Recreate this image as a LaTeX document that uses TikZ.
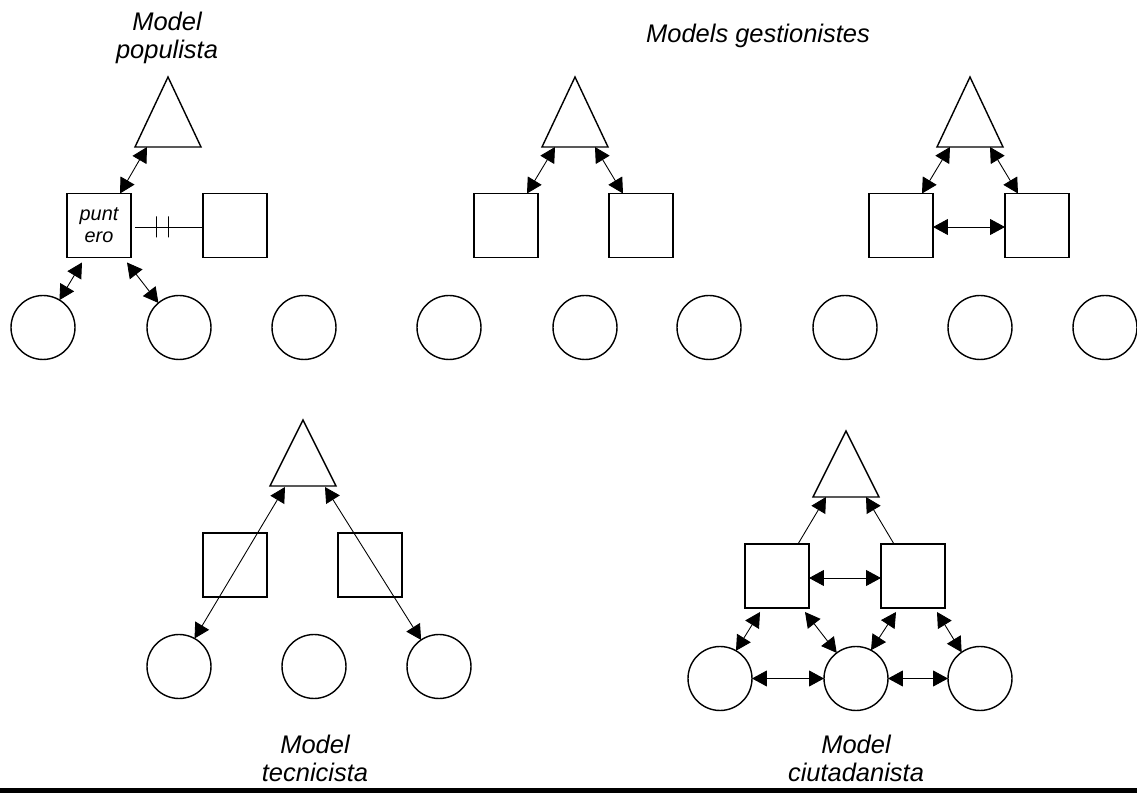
\documentclass[tikz,border=0pt]{standalone}
\usepackage{fontspec}
\setmainfont{Liberation Sans}
\usetikzlibrary{arrows.meta,shapes.geometric,calc}
\tikzset{font=\itshape}
\tikzset{every node/.append style={inner sep=0pt, outer sep=0pt}}
\tikzset{
  tri/.style={draw, line width=0.8pt, isosceles triangle, isosceles triangle stretches,
    shape border rotate=90, minimum width=1.32cm, minimum height=1.32cm, anchor=south},
  tall/.style={minimum height=1.4cm},
  sq/.style={draw, line width=0.8pt, minimum size=1.28cm},
  crc/.style={draw, line width=0.8pt, circle, minimum size=1.28cm},
  link/.style={line width=0.5pt,
    {Triangle[length=0.3cm,width=0.32cm]}-{Triangle[length=0.3cm,width=0.32cm]}},
  uplink/.style={line width=0.5pt, -{Triangle[length=0.3cm,width=0.32cm]}},
  lbl/.style={font=\fontsize{14.5}{15.9}\selectfont\itshape, align=center},
  dbltick/.style={draw, line width=0.5pt, minimum width=0pt, minimum height=0.42cm}
}

\begin{document}
\begin{tikzpicture}[x=0.02cm, y=-0.02cm]
  \useasboundingbox (0,0) rectangle (1137,793);

  % labels
  \node[lbl, anchor=north] (lpop) at (167,12) {Model\\populista};
  \node[lbl, anchor=base] (lges) at (758,43) {Models gestionistes};
  \node[lbl, anchor=north] (ltec) at (315,735) {Model\\tecnicista};
  \node[lbl, anchor=north] (lciu) at (856,735) {Model\\ciutadanista};

  % model populista
  \node[tri, tall] (t1) at (168,147) {};
  \node[sq, font=\fontsize{11.3}{12.5}\selectfont\itshape, align=center] (p1) at (99,225.5) {punt\\ero};
  \node[sq] (p2) at (235,225.5) {};
  \foreach \n/\x in {1/43, 2/179, 3/304}
    \node[crc] (c1\n) at (\x,327.5) {};
  \draw[link] ($(t1.south)+(-21,0)$) -- ($(p1.north)+(21,0)$);
  \draw[link] ($(p1.south)+(-17,5)$) -- (c11.59);
  \draw[link] ($(p1.south)+(28,5)$) -- (c12.130);
  \draw[line width=0.5pt] ($(p1.east)+(4,1.5)$) -- ($(p2.west)+(0,1.5)$)
    node[dbltick, pos=0.32] {} node[dbltick, pos=0.485] {};

  % models gestionistes
  \node[tri, tall] (t2) at (575,147) {};
  \node[sq] (b21) at (506,225.5) {};
  \node[sq] (b22) at (641,225.5) {};
  \foreach \n/\x in {1/449, 2/585, 3/709}
    \node[crc] (c2\n) at (\x,327.5) {};
  \draw[link] ($(t2.south)+(-20,0)$) -- ($(b21.north)+(21,0)$);
  \draw[link] ($(t2.south)+(20,0)$) -- ($(b22.north)+(-18,0)$);

  \node[tri, tall] (t3) at (970,147) {};
  \node[sq] (b31) at (901,225.5) {};
  \node[sq] (b32) at (1037,225.5) {};
  \foreach \n/\x in {1/845, 2/980, 3/1105}
    \node[crc] (c3\n) at (\x,327.5) {};
  \draw[link] ($(t3.south)+(-20,0)$) -- ($(b31.north)+(21,0)$);
  \draw[link] ($(t3.south)+(20,0)$) -- ($(b32.north)+(-19,0)$);
  \draw[link] ($(b31.east)+(0,1.5)$) -- ($(b32.west)+(0,1.5)$);

  % model tecnicista
  \node[tri] (t4) at (303,486) {};
  \node[sq] (b41) at (235,565) {};
  \node[sq] (b42) at (370,565) {};
  \foreach \n/\x in {1/179, 2/314, 3/439}
    \node[crc] (c4\n) at (\x,666.5) {};
  \draw[link] ($(t4.south)+(-18,1)$) -- (c41.61);
  \draw[link] ($(t4.south)+(22,1)$) -- (c43.124);

  % model ciutadanista
  \node[tri] (t5) at (846,497) {};
  \node[sq] (b51) at (777,576) {};
  \node[sq] (b52) at (913,576) {};
  \foreach \n/\x in {1/720, 2/856, 3/980}
    \node[crc] (c5\n) at (\x,678.5) {};
  \draw[uplink] ($(b51.north)+(21,0)$) -- ($(t5.south)+(-20,0)$);
  \draw[uplink] ($(b52.north)+(-19,0)$) -- ($(t5.south)+(20,0)$);
  \draw[link] ($(b51.east)+(0,2)$) -- ($(b52.west)+(0,2)$);
  \draw[link] ($(b51.south)+(-17,4)$) -- (c51.60);
  \draw[link] ($(b51.south)+(28,4)$) -- (c52.127);
  \draw[link] ($(b52.south)+(-17,4)$) -- (c52.62);
  \draw[link] ($(b52.south)+(24,4)$) -- (c53.125);
  \draw[link] (c51) -- (c52);
  \draw[link] (c52) -- (c53);

  \fill (0,788) rectangle (1137,793);
\end{tikzpicture}
\end{document}
